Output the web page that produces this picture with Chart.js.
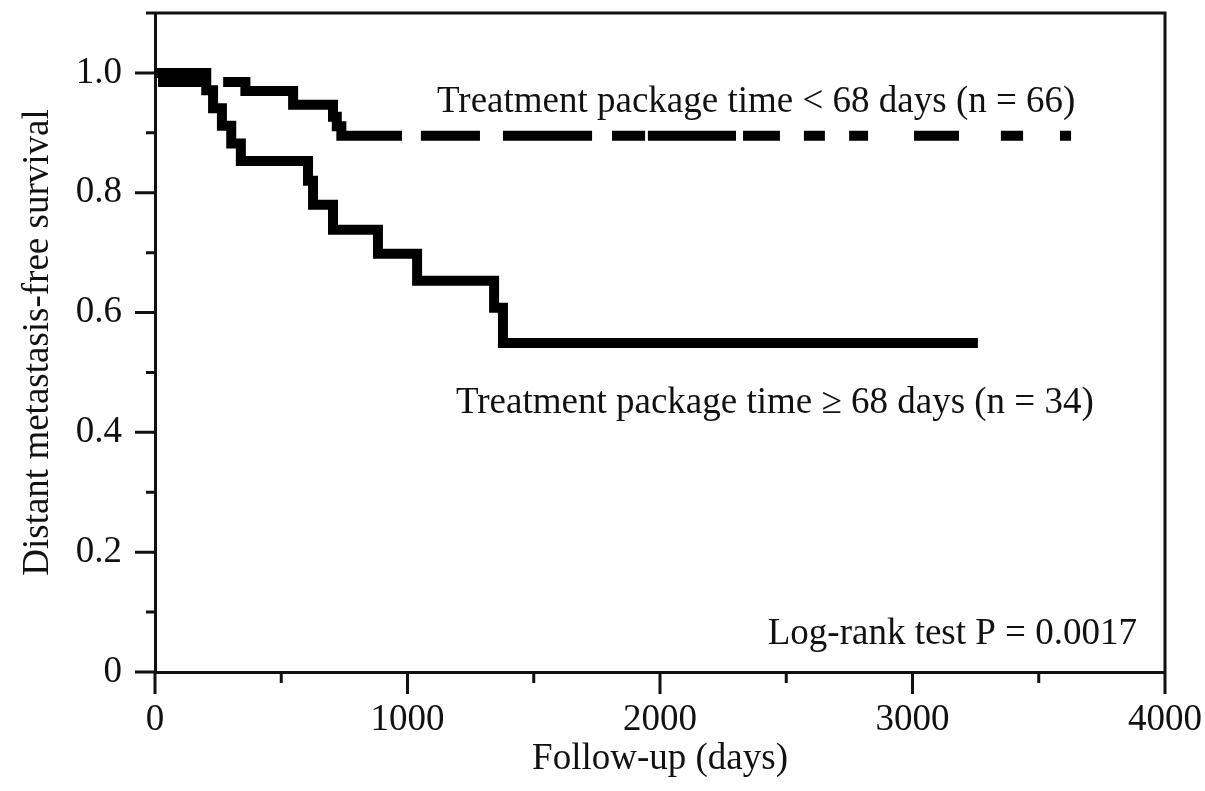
<!DOCTYPE html>
<html>
<head>
<meta charset="utf-8">
<title>Distant metastasis-free survival</title>
<script src="https://cdn.jsdelivr.net/npm/chart.js@4/dist/chart.umd.min.js"></script>
<style>
  html, body { margin: 0; padding: 0; background: #fff; }
  #wrap { width: 1205px; height: 791px; }
</style>
</head>
<body>
<div id="wrap"><canvas id="kmChart" width="1205" height="791"></canvas></div>
<script>
// survival curve, treatment package time >= 68 days (n = 34)
const lowTimes = [0, 203, 230, 265, 302, 340, 606, 626, 705, 883, 1038, 1343, 1378, 3259];
const lowSurv  = [1.0, 0.971, 0.941, 0.912, 0.882, 0.853, 0.82, 0.78, 0.738, 0.698, 0.653, 0.608, 0.549, 0.549];

// survival curve, treatment package time < 68 days (n = 66)
const upTimes = [0, 32, 358, 547, 705, 720, 738, 3628];
const upSurv  = [1.0, 0.985, 0.970, 0.947, 0.927, 0.911, 0.895, 0.895];
// the curve is drawn broken: pieces that are visible (days)
const upDashFrom = [0, 270, 1053, 1378, 1810, 1952, 2329, 2570, 2749, 3006, 3350, 3584];
const upDashTo   = [206, 978, 1287, 1731, 1941, 2301, 2475, 2653, 2824, 3184, 3438, 3628];

const xTickLabels = ['0', '1000', '2000', '3000', '4000'];
const yTickLabels = ['0', '0.2', '0.4', '0.6', '0.8', '1.0'];

const FONT = '"Liberation Serif", "Times New Roman", serif';
const INK = '#111';

function stepValue(times, surv, t) {
    let v = surv[0];
    for (let i = 0; i < times.length; i++) {
        if (times[i] <= t) v = surv[i];
    }
    return v;
}

const lowPoints = lowTimes.map((t, i) => ({x: t, y: lowSurv[i]}));

const upPoints = [];
upDashFrom.forEach((a, k) => {
    const b = upDashTo[k];
    upPoints.push({x: a, y: stepValue(upTimes, upSurv, a)});
    upTimes.forEach((t, i) => {
        if (t > a && t < b) upPoints.push({x: t, y: upSurv[i]});
    });
    upPoints.push({x: b, y: stepValue(upTimes, upSurv, b)});
    upPoints.push({x: b, y: null});
});

const notes = [
    {text: 'Treatment package time < 68 days (n = 66)', x: 1117, y: 0.935, align: 'left'},
    {text: 'Treatment package time \u2265 68 days (n = 34)', x: 1192, y: 0.432, align: 'left'},
    {text: 'Log-rank test P = 0.0017', x: 3889, y: 0.047, align: 'right'}
];

// tick marks (major / minor) plus the closed frame at top and right
const framePlugin = {
    id: 'frame',
    afterDraw(chart) {
        const ctx = chart.ctx;
        const xs = chart.scales.x, ys = chart.scales.y;
        const area = chart.chartArea;
        ctx.save();
        ctx.strokeStyle = INK;
        ctx.lineWidth = 3;
        ctx.beginPath();
        for (let i = 0; i <= 11; i++) {
            const py = ys.getPixelForValue(i / 10);
            const len = (i % 2 === 0) ? 20 : 9;
            ctx.moveTo(area.left - len, py);
            ctx.lineTo(area.left, py);
        }
        for (let i = 0; i <= 8; i++) {
            const px = xs.getPixelForValue(i * 500);
            const len = (i % 2 === 0) ? 22 : 11;
            ctx.moveTo(px, area.bottom);
            ctx.lineTo(px, area.bottom + len);
        }
        ctx.moveTo(area.left, area.top);
        ctx.lineTo(area.right, area.top);
        ctx.lineTo(area.right, area.bottom);
        ctx.stroke();

        ctx.fillStyle = INK;
        ctx.font = '37px ' + FONT;
        ctx.textBaseline = 'alphabetic';
        notes.forEach(n => {
            ctx.textAlign = n.align;
            ctx.fillText(n.text, xs.getPixelForValue(n.x), ys.getPixelForValue(n.y));
        });
        ctx.restore();
    }
};

const kmConfig = {
    type: 'line',
    data: {
        datasets: [
            {
                label: 'Treatment package time < 68 days (n = 66)',
                data: upPoints,
                stepped: 'before',
                spanGaps: false,
                borderColor: '#000',
                borderWidth: 10,
                borderCapStyle: 'butt',
                borderJoinStyle: 'miter',
                pointRadius: 0,
                fill: false
            },
            {
                label: 'Treatment package time \u2265 68 days (n = 34)',
                data: lowPoints,
                stepped: 'before',
                borderColor: '#000',
                borderWidth: 10,
                borderCapStyle: 'butt',
                borderJoinStyle: 'miter',
                pointRadius: 0,
                fill: false
            }
        ]
    },
    options: {
        responsive: false,
        animation: false,
        devicePixelRatio: 1,
        layout: {padding: {left: 0, right: 40, top: 13, bottom: 0}},
        plugins: {
            legend: {display: false},
            tooltip: {enabled: false}
        },
        scales: {
            x: {
                type: 'linear',
                min: 0,
                max: 4000,
                afterFit: s => {
                    s.height = 119;
                    s.paddingLeft = 0;
                    s.paddingRight = 0;
                },
                afterBuildTicks: s => {
                    s.ticks = xTickLabels.map((t, i) => ({value: i * 1000}));
                },
                ticks: {
                    color: INK,
                    font: {family: FONT, size: 37},
                    padding: 26,
                    maxRotation: 0,
                    callback: (v, i) => xTickLabels[i]
                },
                grid: {display: false, drawTicks: false},
                border: {display: true, color: INK, width: 3},
                title: {
                    display: true,
                    text: 'Follow-up (days)',
                    color: INK,
                    font: {family: FONT, size: 37},
                    padding: {top: 0, bottom: 10}
                }
            },
            y: {
                type: 'linear',
                min: 0,
                max: 1.1,
                afterFit: s => {
                    s.width = 155;
                    s.paddingTop = 0;
                    s.paddingBottom = 0;
                },
                afterBuildTicks: s => {
                    s.ticks = yTickLabels.map((t, i) => ({value: i * 0.2}));
                },
                ticks: {
                    color: INK,
                    font: {family: FONT, size: 37},
                    padding: 33,
                    callback: (v, i) => yTickLabels[i]
                },
                grid: {display: false, drawTicks: false},
                border: {display: true, color: INK, width: 3},
                title: {
                    display: true,
                    text: 'Distant metastasis-free survival',
                    color: INK,
                    font: {family: FONT, size: 37},
                    padding: {top: 16, bottom: 0}
                }
            }
        }
    },
    plugins: [framePlugin]
};

const kmChart = new Chart(document.getElementById('kmChart'), kmConfig);
</script>
</body>
</html>
